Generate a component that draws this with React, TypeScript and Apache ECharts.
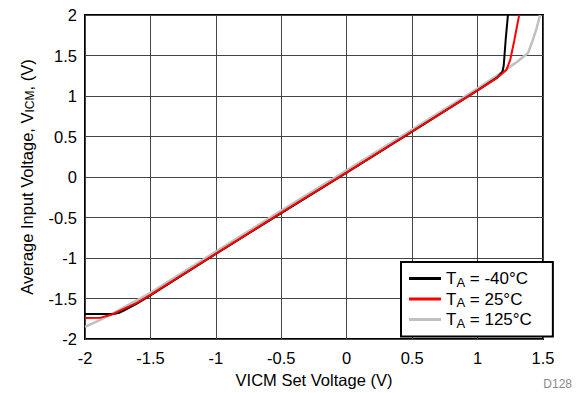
import React, { useEffect, useRef } from "react";
import * as echarts from "echarts";

const xTicks = [-2, -1.5, -1, -0.5, 0, 0.5, 1, 1.5];
const yTicks = [-2, -1.5, -1, -0.5, 0, 0.5, 1, 1.5, 2];

const seriesNames = ["TA = -40°C", "TA = 25°C", "TA = 125°C"];
const legendTemps = ["-40°C", "25°C", "125°C"];
const seriesColors = ["#000000", "#ff0000", "#c0c0c0"];

const blackData: [number, number][] = [
  [-2, -1.69], [-1.78, -1.69], [-1.74, -1.675], [-1.7, -1.645], [-1.6, -1.56], [-1.5, -1.46],
  [-1, -0.95], [-0.5, -0.445], [0, 0.055], [0.5, 0.56], [1, 1.07], [1.15, 1.23],
  [1.19, 1.3], [1.2, 1.38], [1.215, 1.7], [1.232, 2],
];
const redData: [number, number][] = [
  [-2, -1.74], [-1.88, -1.735], [-1.8, -1.7], [-1.7, -1.625], [-1.6, -1.55], [-1.5, -1.455],
  [-1, -0.945], [-0.5, -0.44], [0, 0.058], [0.5, 0.562], [1, 1.07], [1.15, 1.225],
  [1.22, 1.32], [1.25, 1.45], [1.28, 1.68], [1.3, 1.85], [1.318, 2],
];
const grayData: [number, number][] = [
  [-2, -1.85], [-1.9, -1.775], [-1.8, -1.695], [-1.7, -1.605], [-1.6, -1.52], [-1.5, -1.43],
  [-1, -0.92], [-0.5, -0.415], [0, 0.083], [0.5, 0.587], [1, 1.092], [1.2, 1.308],
  [1.3, 1.42], [1.385, 1.53], [1.42, 1.68], [1.45, 1.83], [1.478, 2],
];

const FONT = "Liberation Sans, Arial, Helvetica, sans-serif";

export default function App() {
  const ref = useRef<HTMLDivElement>(null);
  useEffect(() => {
    if (!ref.current) return;
    const chart = echarts.init(ref.current, null, { renderer: "svg" });
    const datas = [blackData, redData, grayData];
    const zs = [3, 4, 2];
    const widths = [2, 2, 2.5];
    chart.setOption({
      animation: false,
      backgroundColor: "#ffffff",
      textStyle: { fontFamily: FONT },
      grid: {
        left: 85, right: 38, top: 15, bottom: 53,
        show: true, borderColor: "#000", borderWidth: 2, backgroundColor: "transparent",
      },
      xAxis: {
        type: "value",
        min: xTicks[0], max: xTicks[xTicks.length - 1], interval: 0.5,
        axisLine: { show: false },
        axisTick: { show: false },
        splitLine: { show: true, lineStyle: { color: "#444", width: 1 } },
        axisLabel: { color: "#000", fontSize: 16.5, margin: 10, fontFamily: FONT },
        name: "VICM Set Voltage (V)",
        nameLocation: "middle",
        nameGap: 30,
        nameTextStyle: { color: "#000", fontSize: 16.5, fontFamily: FONT },
      },
      yAxis: {
        type: "value",
        min: yTicks[0], max: yTicks[yTicks.length - 1], interval: 0.5,
        axisLine: { show: false },
        axisTick: { show: false },
        splitLine: { show: true, lineStyle: { color: "#444", width: 1 } },
        axisLabel: { color: "#000", fontSize: 16.5, margin: 8, fontFamily: FONT },
        name: "{a|Average Input Voltage, V}{s|ICM}{a|, (V)}",
        nameLocation: "middle",
        nameGap: 49,
        nameTextStyle: {
          color: "#000", fontSize: 16.5, fontFamily: FONT,
          rich: {
            a: { fontSize: 16.5, color: "#000", fontFamily: FONT },
            s: { fontSize: 12, color: "#000", fontFamily: FONT, padding: [7, 0, 0, 0] },
          },
        },
      },
      legend: {
        orient: "vertical",
        left: 401, top: 262,
        backgroundColor: "#fff",
        borderColor: "#000",
        borderWidth: 2,
        padding: [8, 21, 7, 8],
        itemGap: 2,
        itemWidth: 32,
        itemHeight: 14,
        data: seriesNames.map((n, i) => ({
          name: n,
          icon: "path://M0,0 L32,0 L32,3 L0,3 Z",
          itemStyle: { color: seriesColors[i] },
        })),
        formatter: (name: string) => {
          const i = seriesNames.indexOf(name);
          return `{a|T}{s|A}{a| = ${legendTemps[i]}}`;
        },
        textStyle: {
          color: "#000", fontSize: 17, fontFamily: FONT,
          rich: {
            a: { fontSize: 17, color: "#000", fontFamily: FONT, lineHeight: 20 },
            s: { fontSize: 13, color: "#000", fontFamily: FONT, padding: [7, 0, 0, 0] },
          },
        },
      },
      graphic: [
        {
          type: "text", right: 9, top: 378,
          style: { text: "D128", fill: "#8a8a8a", fontSize: 12, fontFamily: FONT },
        },
      ],
      series: seriesNames.map((n, i) => ({
        name: n,
        type: "line",
        data: datas[i],
        symbol: "none",
        smooth: false,
        z: zs[i],
        lineStyle: { color: seriesColors[i], width: widths[i] },
        itemStyle: { color: seriesColors[i] },
      })),
    });
    return () => chart.dispose();
  }, []);
  return <div ref={ref} style={{ width: 581, height: 393, position: "absolute", left: 0, top: 0 }} />;
}
